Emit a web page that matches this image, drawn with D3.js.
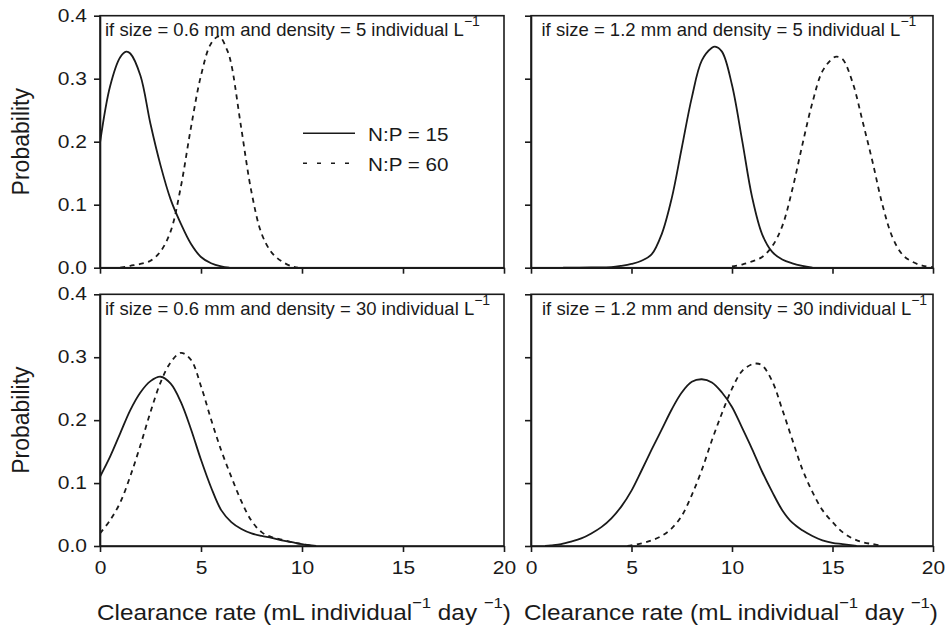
<!DOCTYPE html>
<html><head><meta charset="utf-8">
<script src="https://cdn.jsdelivr.net/npm/d3@7"></script>
<style>
body{margin:0;background:#fff;}
svg text{font-family:"Liberation Sans",Arial,Helvetica,sans-serif;fill:#1a1a1a;}
</style></head><body>
<svg id="chart" width="945" height="626"></svg>
<script>
// ---------- data ----------
const xTicks = [0, 5, 10, 15, 20];
const yTicks = [0, 0.1, 0.2, 0.3, 0.4];
const seriesNames = ["N:P = 15", "N:P = 60"];
const panelSizes = ["0.6", "1.2", "0.6", "1.2"];
const panelDensities = ["5", "5", "30", "30"];
const yTitle = "Probability";

// top-left: size 0.6 mm, density 5
const tl15x = [0,0.5,1,1.3,1.5,2,2.5,3,3.5,4,4.5,5,5.5,6,6.4];
const tl15y = [0.198,0.288,0.334,0.343,0.340,0.305,0.228,0.162,0.108,0.070,0.038,0.017,0.007,0.002,0];
const tl60x = [1.0,1.5,2,2.5,3,3.5,4,4.5,5,5.5,5.9,6.3,6.5,7,7.5,8,8.5,9,9.5,9.8];
const tl60y = [0,0.003,0.006,0.011,0.026,0.058,0.128,0.222,0.305,0.356,0.367,0.345,0.323,0.220,0.120,0.054,0.024,0.010,0.002,0];

// top-right: size 1.2 mm, density 5
const tr15x = [1.6,3,4,4.5,5,5.5,6,6.5,7,7.5,8,8.5,9,9.15,9.5,10,10.5,11,11.5,12,12.5,13,13.5,14];
const tr15y = [0,0.0005,0.001,0.003,0.006,0.011,0.021,0.053,0.110,0.190,0.270,0.329,0.349,0.351,0.343,0.290,0.203,0.112,0.053,0.025,0.013,0.007,0.003,0];
const tr60x = [10,10.5,11,11.5,12,12.5,13,13.5,14,14.5,15,15.2,15.5,16,16.5,17,17.5,18,18.5,19,19.5,20];
const tr60y = [0.002,0.005,0.010,0.017,0.034,0.066,0.124,0.195,0.262,0.312,0.332,0.335,0.331,0.294,0.232,0.167,0.098,0.047,0.020,0.009,0.003,0.001];

// bottom-left: size 0.6 mm, density 30
const bl15x = [0,0.5,1,1.5,2,2.5,3,3.5,4,4.5,5,5.5,6,6.5,7,7.5,8,8.5,9,9.5,10,10.7];
const bl15y = [0.110,0.142,0.179,0.216,0.244,0.262,0.269,0.258,0.229,0.186,0.137,0.093,0.057,0.038,0.027,0.020,0.016,0.013,0.009,0.006,0.003,0];
const bl60x = [0,0.5,1,1.5,2,2.5,3,3.5,4,4.5,5,5.5,6,6.5,7,7.5,8,8.5,9,9.5,10,10.5];
const bl60y = [0.020,0.041,0.069,0.111,0.160,0.213,0.260,0.292,0.307,0.296,0.254,0.201,0.152,0.110,0.071,0.040,0.022,0.014,0.010,0.006,0.003,0];

// bottom-right: size 1.2 mm, density 30
const br15x = [0.7,1,1.5,2,2.5,3,3.5,4,4.5,5,5.5,6,6.5,7,7.5,8,8.5,9,9.5,10,10.5,11,11.5,12,12.5,13,13.5,14,14.5,15,15.5,16.2];
const br15y = [0,0.001,0.003,0.007,0.012,0.020,0.030,0.044,0.063,0.088,0.120,0.153,0.185,0.217,0.244,0.261,0.265,0.260,0.244,0.221,0.188,0.154,0.118,0.086,0.057,0.037,0.025,0.016,0.009,0.005,0.003,0];
const br60x = [4.8,5.5,6,6.5,7,7.5,8,8.5,9,9.5,10,10.5,11,11.2,11.5,12,12.5,13,13.5,14,14.5,15,15.5,16,16.5,17,17.5];
const br60y = [0,0.004,0.009,0.016,0.028,0.048,0.081,0.121,0.168,0.211,0.250,0.278,0.289,0.290,0.287,0.262,0.217,0.169,0.122,0.086,0.057,0.038,0.022,0.012,0.006,0.003,0];

// ---------- layout ----------
const ink = "#1a1a1a";
const svg = d3.select("#chart");
const colRange = [[100, 504], [531, 933]];
const rowRange = [[267.7, 15.7], [546, 294.3]];

const panels = [
  {col:0, row:0, s15:[tl15x,tl15y], s60:[tl60x,tl60y], legend:true,  labelDx:5},
  {col:1, row:0, s15:[tr15x,tr15y], s60:[tr60x,tr60y], legend:false, labelDx:10.5},
  {col:0, row:1, s15:[bl15x,bl15y], s60:[bl60x,bl60y], legend:false, labelDx:5},
  {col:1, row:1, s15:[br15x,br15y], s60:[br60x,br60y], legend:false, labelDx:11}
];

function stretch(sel, sx) {
  sel.each(function(){
    const t = d3.select(this);
    const x = +t.attr("x") || 0;
    t.attr("x", x / sx).attr("transform", `scale(${sx},1)`);
  });
}

panels.forEach((p, i) => {
  const x = d3.scaleLinear().domain([0, 20]).range(colRange[p.col]);
  const y = d3.scaleLinear().domain([0, 0.4]).range(rowRange[p.row]);
  const g = svg.append("g");
  const showX = p.row === 1, showY = p.col === 0;

  const clipId = "clip" + i;
  g.append("clipPath").attr("id", clipId).append("rect")
    .attr("x", x(0)).attr("y", y(0.4)).attr("width", x(20) - x(0)).attr("height", y(0) - y(0.4));

  const xa = g.append("g").attr("transform", `translate(0,${y(0)})`)
    .call(d3.axisBottom(x).tickValues(xTicks).tickSize(6).tickSizeOuter(0).tickPadding(10)
      .tickFormat(showX ? d3.format("d") : () => ""));
  const ya = g.append("g").attr("transform", `translate(${x(0)},0)`)
    .call(d3.axisLeft(y).tickValues(yTicks).tickSize(6).tickSizeOuter(0).tickPadding(7)
      .tickFormat(showY ? d3.format(".1f") : () => ""));
  [xa, ya].forEach(a => {
    a.attr("font-family", null).attr("font-size", 17.5);
    a.selectAll("path, line").attr("stroke", ink).attr("stroke-width", 1.6);
    a.selectAll("text").attr("fill", ink);
    stretch(a.selectAll("text"), 1.2);
  });

  g.append("rect").attr("x", x(0)).attr("y", y(0.4))
    .attr("width", x(20) - x(0)).attr("height", y(0) - y(0.4))
    .attr("fill", "none").attr("stroke", ink).attr("stroke-width", 1.6);

  const line = d3.line().x(d => x(d[0])).y(d => y(d[1])).curve(d3.curveCatmullRom.alpha(0.5));
  const pts = s => s[0].map((v, k) => [v, s[1][k]]);
  g.append("path").attr("clip-path", `url(#${clipId})`).attr("d", line(pts(p.s15)))
    .attr("fill", "none").attr("stroke", ink).attr("stroke-width", 1.8);
  g.append("path").attr("clip-path", `url(#${clipId})`).attr("d", line(pts(p.s60)))
    .attr("fill", "none").attr("stroke", ink).attr("stroke-width", 1.8).attr("stroke-dasharray", "5,4.5");

  const lbl = g.append("text").attr("x", x(0) + p.labelDx).attr("y", y(0.4) + 20.5)
    .attr("font-size", 18.5);
  lbl.append("tspan").text(`if size = ${panelSizes[i]} mm and density = ${panelDensities[i]} individual L`);
  lbl.append("tspan").attr("font-size", 14).attr("dy", -10).text("\u22121");

  if (showY) {
    const cy = (y(0) + y(0.4)) / 2;
    g.append("text").attr("transform", `translate(28.5,${cy}) rotate(-90)`)
      .attr("text-anchor", "middle").attr("font-size", 23).text(yTitle);
  }
  if (showX) {
    const cx = (x(0) + x(20)) / 2 + (p.col === 0 ? 2 : -1);
    const t = g.append("text").attr("transform", `translate(${cx},619.5) scale(1.08,1)`)
      .attr("text-anchor", "middle").attr("font-size", 22.5);
    t.append("tspan").text("Clearance rate (mL individual");
    t.append("tspan").attr("font-size", 15.5).attr("dy", -12).text("\u22121");
    t.append("tspan").attr("dy", 12).text(" day ");
    t.append("tspan").attr("font-size", 15.5).attr("dy", -12).text("\u22121");
    t.append("tspan").attr("dy", 12).text(")");
  }

  if (p.legend) {
    const lx0 = x(0) + 203, lx1 = x(0) + 255;
    const rows = [{yy: y(0.4) + 117.6, dash: null}, {yy: y(0.4) + 147.6, dash: "4,10"}];
    rows.forEach((r, k) => {
      const ln = g.append("line").attr("x1", lx0).attr("x2", k === 0 ? lx1 : lx1 - 3)
        .attr("y1", r.yy).attr("y2", r.yy).attr("stroke", ink).attr("stroke-width", 1.6);
      if (r.dash) ln.attr("stroke-dasharray", r.dash);
      g.append("text").attr("transform", `translate(${x(0) + 268},${r.yy + 8}) scale(1.18,1)`)
        .attr("font-size", 17.5).text(seriesNames[k]);
    });
  }
});
</script>
</body></html>
